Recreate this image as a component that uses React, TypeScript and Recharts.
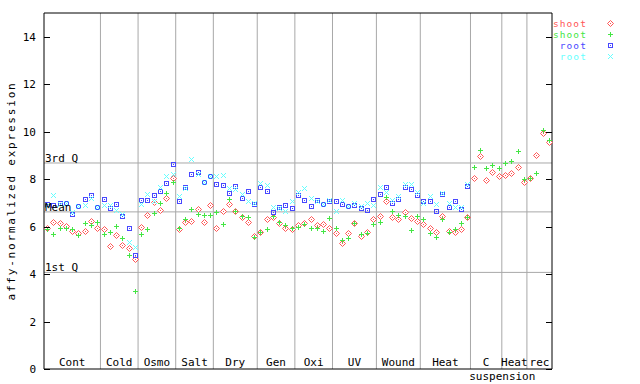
import { ReferenceLine, Scatter, ScatterChart, XAxis, YAxis } from "recharts";

const groups = ["Cont", "Cold", "Osmo", "Salt", "Dry", "Gen", "Oxi", "UV", "Wound", "Heat", "C suspension", "Heat", "rec"];
const groupSizes = [9, 6, 6, 6, 7, 6, 6, 7, 7, 8, 5, 4, 4];

// shoot, replicate 1 (red diamonds)
const shootRep1 = [
    5.96, 6.19, 6.15, 6.03, 5.82, 5.72, 5.82, 6.24, 5.94,
    5.89, 5.18, 5.65, 5.23, 5.09, 4.64,
    5.98, 6.47, 7.02, 6.71, 7.2, 8.04,
    5.89, 6.19, 6.24, 6.74, 6.19, 6.89,
    5.94, 6.67, 6.96, 6.64, 6.4, 6.19, 5.61,
    5.77, 6.32, 6.39, 6.15, 5.96, 5.89,
    6.05, 6.15, 6.32, 6.05, 6.1, 5.94,
    5.72, 5.3, 5.72, 6.15, 5.61, 5.79, 6.33,
    6.43, 7.09, 6.4, 6.32, 6.61, 6.36, 6.24,
    6.1, 5.93, 5.76, 6.45, 5.82, 5.76, 5.9, 6.39,
    8.03, 8.98, 7.96, 8.32, 8.13,
    8.18, 8.25, 8.5, 7.87,
    8.03, 9.02, 9.93, 9.58,
];

// shoot, replicate 2 (green plus)
const shootRep2 = [
    5.89, 5.68, 5.92, 5.94, 5.89, 5.65, 6.15, 6.05, 6.19,
    5.68, 5.77, 6.03, 5.51, 4.81, 3.29,
    5.7, 5.89, 6.57, 6.99, 7.41, 7.9,
    5.94, 6.33, 6.74, 6.53, 6.5, 6.5,
    6.6, 6.12, 7.17, 6.64, 6.46, 6.4, 5.56,
    5.79, 5.89, 6.43, 6.19, 6.05, 5.96,
    6.0, 6.12, 5.96, 5.96, 5.82, 6.36,
    5.96, 5.44, 5.54, 6.15, 5.68, 5.72, 6.1,
    6.19, 7.23, 6.67, 6.5, 6.43, 5.87, 6.46,
    6.32, 5.72, 5.58, 6.32, 5.76, 5.9, 6.14, 6.39,
    8.5, 9.23, 8.46, 8.6, 8.46,
    8.67, 8.77, 9.19, 7.99,
    8.03, 8.27, 10.07, 9.65,
];

// root, replicate 1 (blue squares)
const rootRep1 = [
    6.96, 6.92, 6.99, 6.99, 6.54, 6.88, 7.17, 7.34, 6.82,
    7.17, 6.78, 6.96, 6.46, 5.94, 4.81,
    7.13, 7.13, 7.34, 7.48, 7.83, 8.64,
    7.09, 7.65, 8.23, 8.3, 7.86, 8.14,
    7.79, 7.76, 7.41, 7.69, 7.2, 7.52, 6.95,
    7.65, 7.52, 6.61, 6.82, 6.89, 6.78,
    7.34, 7.1, 6.88, 7.13, 6.96, 7.09,
    7.09, 6.95, 6.88, 6.92, 6.78, 6.71, 7.16,
    7.38, 7.67, 6.99, 7.16, 7.67, 7.58, 7.34,
    7.07, 7.07, 6.66, 7.37, 6.81, 7.07, 6.73, 7.71,
];

// root, replicate 2 (cyan crosses)
const rootRep2 = [
    6.92, 7.34, 6.96, 6.99, 6.6, 6.88, 6.92, 7.2, 6.82,
    6.92, 6.89, 6.71, 6.54, 5.34, 5.13,
    6.96, 7.38, 7.06, 7.67, 8.14, 8.23,
    7.3, 7.62, 8.85, 8.23, 7.9, 8.14,
    8.12, 8.19, 7.62, 7.58, 7.38, 7.09, 6.99,
    7.83, 7.76, 6.82, 6.78, 6.64, 7.06,
    7.44, 7.62, 7.2, 7.06, 6.96, 7.13,
    6.64, 7.13, 6.88, 6.99, 6.85, 6.99, 6.92,
    7.67, 7.44, 7.13, 7.3, 7.79, 7.79, 7.44,
    6.98, 7.29, 6.94, 7.43, 6.98, 6.84, 6.84, 7.78,
];

const seriesNames = ["shoot", "shoot", "root", "root"];
const seriesColors = ["#ff5555", "#44e644", "#4848ff", "#66ffff"];

const quartileLabels = ["1st Q", "Mean", "3rd Q"];
const quartileValues = [4.07, 6.62, 8.68];
const yTicks = [0, 2, 4, 6, 8, 10, 12, 14];

const FONT = "'DejaVu Sans Mono', monospace";
const GRID = "#a8a8a8";

const centers: number[] = [];
const bounds: number[] = [];
let acc = 0;
groupSizes.forEach((n) => {
    centers.push(acc + n / 2);
    acc += n;
    bounds.push(acc);
});
const total = acc;

const toPoints = (vals: number[]) => vals.map((y, i) => ({ x: i + 0.5, y }));

function marker(kind: number, color: string, cx: number, cy: number) {
    const X = Math.round(cx);
    const Y = Math.round(cy);
    if (kind === 0) {
        const c = X + 0.5, m = Y + 0.5;
        return (
            <g>
                <polygon points={`${c},${m - 3} ${c + 3},${m} ${c},${m + 3} ${c - 3},${m}`} fill="#fff" stroke={color} strokeWidth={1} />
                <rect x={X} y={Y} width={1} height={1} fill={color} />
            </g>
        );
    }
    if (kind === 1) {
        return (
            <g stroke={color} strokeWidth={1} shapeRendering="crispEdges">
                <line x1={X - 2} y1={Y + 0.5} x2={X + 3} y2={Y + 0.5} />
                <line x1={X + 0.5} y1={Y - 2} x2={X + 0.5} y2={Y + 3} />
            </g>
        );
    }
    if (kind === 2) {
        return (
            <g shapeRendering="crispEdges">
                <rect x={X - 1.5} y={Y - 1.5} width={4} height={4} fill="none" stroke={color} strokeWidth={1} />
                <rect x={X} y={Y} width={1} height={1} fill={color} />
            </g>
        );
    }
    return (
        <g stroke={color} strokeWidth={1}>
            <line x1={X - 2} y1={Y - 2} x2={X + 3} y2={Y + 3} />
            <line x1={X + 3} y1={Y - 2} x2={X - 2} y2={Y + 3} />
        </g>
    );
}

const XTick = (props: any) => {
    const { x, y, payload } = props;
    const idx = centers.indexOf(payload.value);
    const [first, ...rest] = (groups[idx] ?? "").split(" ");
    return (
        <g>
            <text x={x} y={y - 3} textAnchor="middle" fontSize={11} fontFamily={FONT} fill="#000">{first}</text>
            {rest.length > 0 && (
                <text x={x - 17} y={y + 11} textAnchor="start" fontSize={11} fontFamily={FONT} fill="#000">{rest.join(" ")}</text>
            )}
        </g>
    );
};

const LeftTick = (props: any) => {
    const { x, y, payload } = props;
    const ax = x + 8;
    return (
        <g>
            <line x1={ax} y1={Math.round(y) + 0.5} x2={ax + 6} y2={Math.round(y) + 0.5} stroke="#000" shapeRendering="crispEdges" />
            <text x={x} y={y + 4} textAnchor="end" fontSize={11} fontFamily={FONT} fill="#000">{payload.value}</text>
        </g>
    );
};

const RightTick = (props: any) => {
    const { x, y } = props;
    return <line x1={x - 6} y1={Math.round(y) + 0.5} x2={x} y2={Math.round(y) + 0.5} stroke="#000" shapeRendering="crispEdges" />;
};

export default function App() {
    const series = [shootRep1, shootRep2, rootRep1, rootRep2];
    return (
        <div style={{ position: "absolute", left: 0, top: 0, width: 640, height: 384, background: "#fff" }}>
            <ScatterChart width={640} height={384} margin={{ top: 13, right: 87, bottom: 0, left: 0 }}>
                <XAxis
                    type="number"
                    dataKey="x"
                    domain={[0, total]}
                    ticks={centers}
                    interval={0}
                    height={15}
                    tickSize={0}
                    tickMargin={0}
                    tickLine={false}
                    axisLine={{ stroke: "#000" }}
                    tick={<XTick />}
                />
                <YAxis
                    type="number"
                    dataKey="y"
                    domain={[0, 15]}
                    ticks={yTicks}
                    interval={0}
                    width={44}
                    tickLine={false}
                    axisLine={{ stroke: "#000" }}
                    tick={<LeftTick />}
                />
                <YAxis
                    yAxisId="r"
                    orientation="right"
                    type="number"
                    domain={[0, 15]}
                    allowDataOverflow
                    ticks={yTicks}
                    interval={0}
                    width={1}
                    tickSize={0}
                    tickMargin={0}
                    tickLine={false}
                    axisLine={{ stroke: "#000" }}
                    tick={<RightTick />}
                />
                {bounds.slice(0, -1).map((b) => (
                    <ReferenceLine key={"b" + b} x={b} stroke={GRID} />
                ))}
                {quartileValues.map((v, i) => (
                    <ReferenceLine
                        key={"q" + i}
                        y={v}
                        stroke={GRID}
                        label={{ value: quartileLabels[i], position: "insideBottomLeft", offset: 1, fill: "#000", fontSize: 11, fontFamily: FONT }}
                    />
                ))}
                <ReferenceLine y={15} stroke="#000" />
                {series.map((vals, k) => (
                    <Scatter
                        key={k}
                        name={seriesNames[k]}
                        data={toPoints(vals)}
                        isAnimationActive={false}
                        shape={(p: any) => marker(k, seriesColors[k], p.cx, p.cy)}
                    />
                ))}
            </ScatterChart>
            <svg width={640} height={384} style={{ position: "absolute", left: 0, top: 0, pointerEvents: "none" }}>
                <text
                    transform="translate(15,191) rotate(-90)"
                    textAnchor="middle"
                    fontSize={11}
                    fontFamily={FONT}
                    letterSpacing={1.8}
                    fill="#000"
                >
                    affy-normalized expression
                </text>
                {seriesNames.map((n, k) => (
                    <g key={k}>
                        <text x={587} y={27 + k * 11} textAnchor="end" fontSize={9.5} letterSpacing={1.1} fontFamily={FONT} fill={seriesColors[k]}>{n}</text>
                        {marker(k, seriesColors[k], 610, 23 + k * 11)}
                    </g>
                ))}
            </svg>
        </div>
    );
}
